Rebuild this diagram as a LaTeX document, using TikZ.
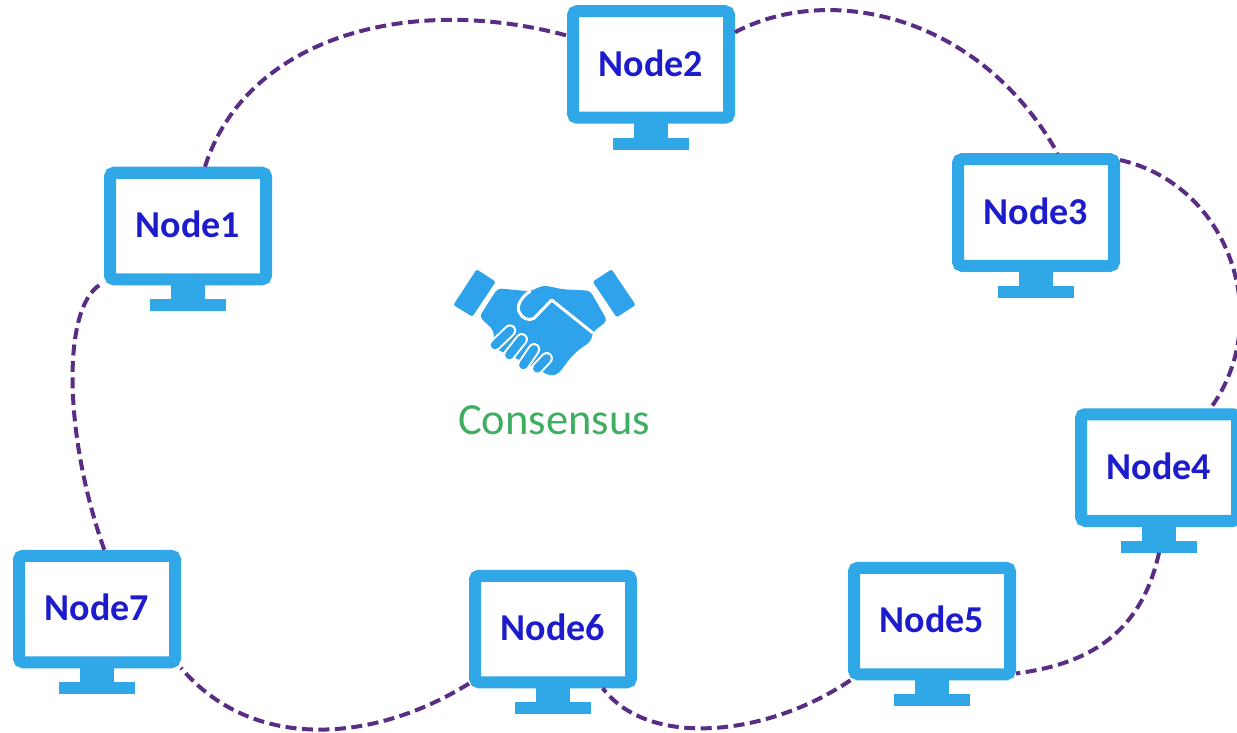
\documentclass[tikz,border=0pt]{standalone}
\usepackage{fontspec}
\setmainfont{Carlito}
\usetikzlibrary{calc}
\definecolor{monblue}{HTML}{30A8E8}
\definecolor{handblue}{HTML}{2EA2EA}
\definecolor{nodeink}{HTML}{1C1CCC}
\definecolor{consgreen}{HTML}{3FAE60}
\definecolor{linkpurple}{HTML}{5A2D84}
\tikzset{
  monitor/.style={draw=monblue,fill=white,line width=12pt,rounded corners=4pt,minimum width=156pt,minimum height=106.5pt,inner sep=0pt,text=nodeink,font=\fontsize{38}{40}\selectfont\bfseries},
  link/.style={draw=linkpurple,line width=4pt,dash pattern=on 11pt off 5.5pt},
  standpart/.style={fill=monblue,draw=none},
  handline/.style={draw=white,line width=3pt,line cap=round,line join=round},
  finger/.style={draw=handblue,line width=8.5pt,line cap=round},
}
\newcommand{\monitorat}[4]{%
  \node[monitor] (#1) at (#2,#3) {\raisebox{3pt}{#4}};
  \path[standpart] ($(#1.south)+(-17,-1)$) rectangle ($(#1.south)+(17,15)$);
  \path[standpart] ($(#1.south)+(-38,14)$) rectangle ($(#1.south)+(38,26)$);
  \coordinate (#1foot) at ($(#1.south)+(0,26)$);
}
\begin{document}
\begin{tikzpicture}[x=1pt,y=-1pt]
\useasboundingbox (0,0) rectangle (1237,733);
\clip (0,0) rectangle (1237,733);
\monitorat{n1}{188}{226}{Node1}
\monitorat{n2}{651}{64.5}{Node2}
\monitorat{n3}{1036}{212.5}{Node3}
\monitorat{n4}{1159}{467.5}{Node4}
\monitorat{n5}{932}{621}{Node5}
\monitorat{n6}{553}{629}{Node6}
\monitorat{n7}{97}{609}{Node7}
\draw[link] (n1.74) .. controls (245,40) and (405,-8) .. (n2.161);
\draw[link] (n2.21) .. controls (830,-18) and (980,15) .. (n3.70);
\draw[link] (n3.32) .. controls (1230,185) and (1275,320) .. (n4.49);
\draw[link] (n4foot) .. controls (1140,640) and (1080,665) .. (n5.-32);
\draw[link] (n5.216) .. controls (770,735) and (650,750) .. (n6.-50);
\draw[link] (n6.213) .. controls (370,745) and (250,750) .. (n7.-35);
\draw[link] (n7.83) .. controls (62,430) and (62,300) .. (n1.214);
% handshake
\begin{scope}[shift={(430,250)},x=0.3333pt,y=-0.3333pt]
  \fill[handblue,rounded corners=2pt] (140,58) -- (197,95) -- (127,200) -- (70,165) -- cycle;
  \fill[handblue,rounded corners=2pt] (545,58) -- (488,95) -- (560,202) -- (617,165) -- cycle;
  \fill[handblue,rounded corners=4pt] (203,115) -- (300,124) -- (340,106) -- (400,118) -- (480,122)
     -- (532,212) -- (490,245) -- (482,275) -- (445,300) -- (420,325) -- (385,372) -- (360,378)
     -- (300,345) -- (195,295) -- (190,240) -- (148,200) -- cycle;
  \draw[handline] (300,124) .. controls (275,140) and (262,165) .. (265,180)
     .. controls (275,205) and (295,215) .. (312,205) -- (365,150) -- (490,250);
  \foreach \ax/\ay/\bx/\by in {240/242/195/285, 275/268/238/315, 312/298/280/345, 350/325/322/355}{
    \draw[white,line width=12.5pt,line cap=round] (\ax,\ay) -- (\bx,\by);
    \draw[finger] (\ax,\ay) -- (\bx,\by);
  }
\end{scope}
\node[text=consgreen,font=\fontsize{44.5}{50}\selectfont,inner sep=0pt] (cons) at (554,420) {Consensus};
\end{tikzpicture}
\end{document}
